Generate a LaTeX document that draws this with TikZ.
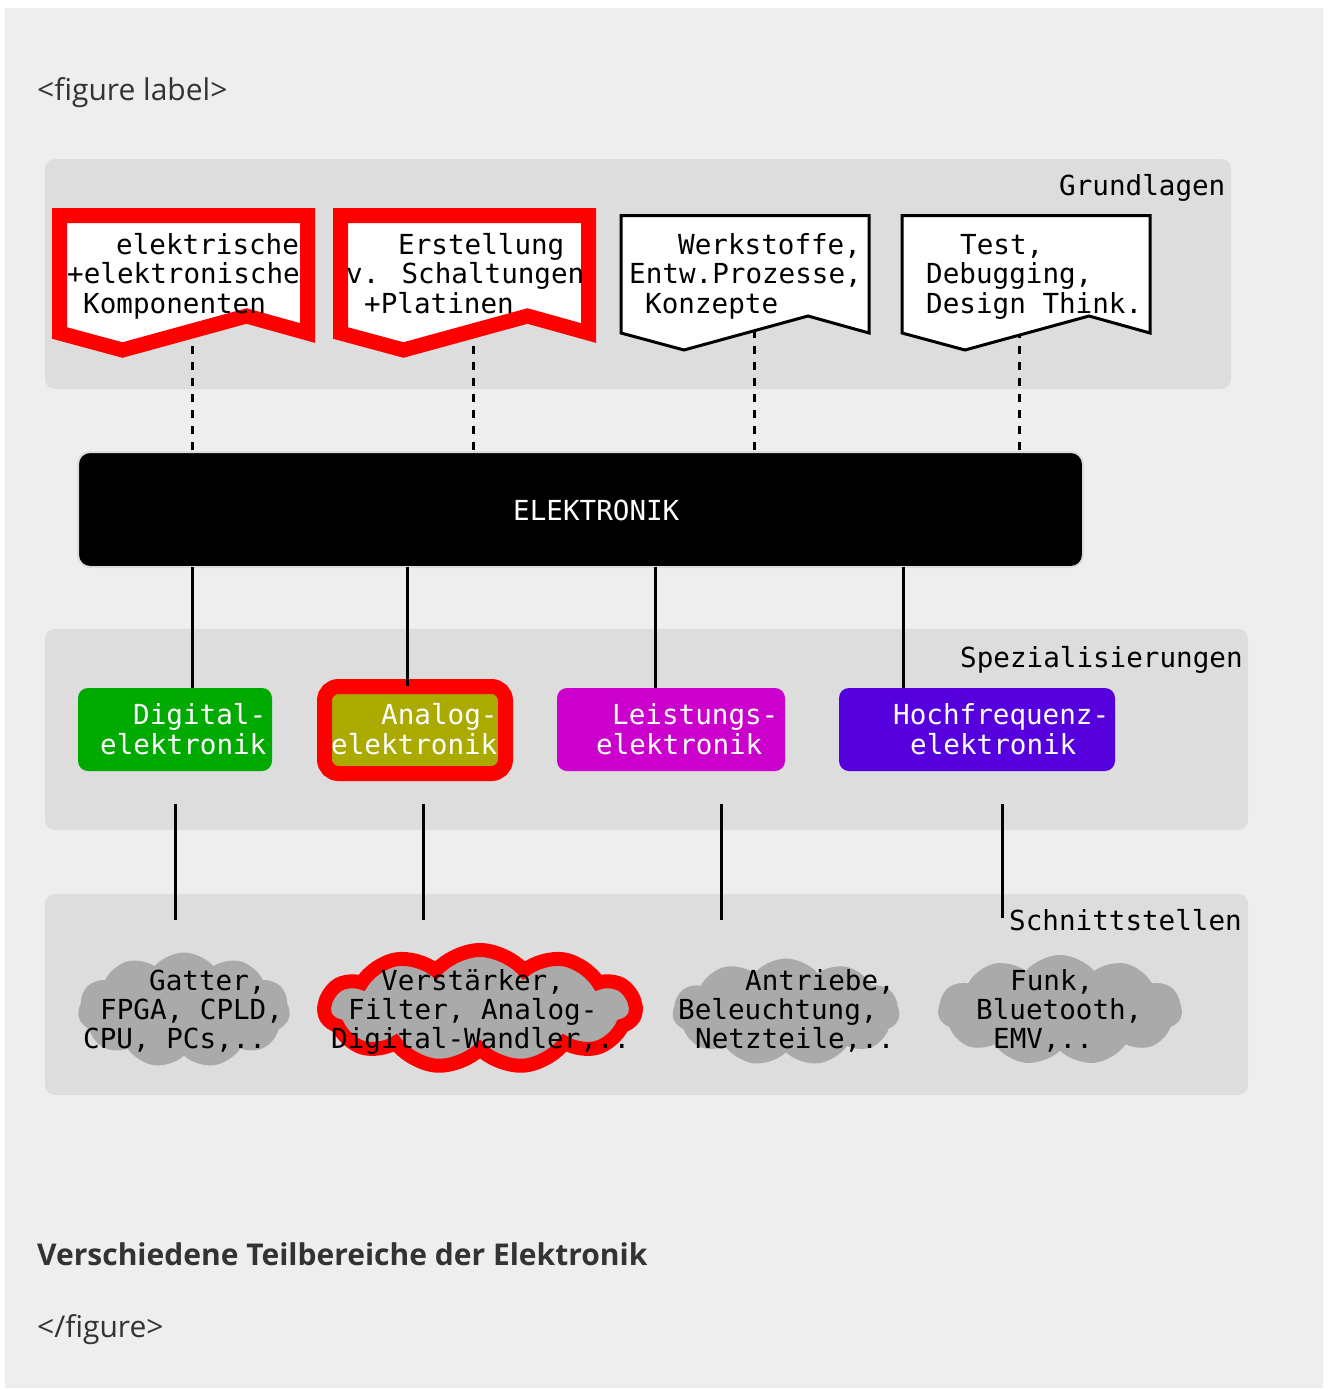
\documentclass[tikz,border=0pt]{standalone}
\usepackage{fontspec}
\setmainfont{Open Sans}
\newfontfamily\monof{DejaVu Sans Mono}
\usetikzlibrary{shapes.symbols}
\definecolor{bgc}{HTML}{EEEEEE}
\definecolor{panelc}{HTML}{DDDDDD}
\definecolor{cloudc}{HTML}{AAAAAA}
\definecolor{digc}{HTML}{00AA00}
\definecolor{anac}{HTML}{AAAA00}
\definecolor{leic}{HTML}{CC00CC}
\definecolor{hfc}{HTML}{5500DD}
\definecolor{capc}{HTML}{333333}
\tikzset{
  panelbox/.style={fill=panelc, rounded corners=10pt},
  mt/.style={font=\monof\fontsize{27.6}{30}\selectfont, inner sep=0pt, anchor=base west},
  wt/.style={mt, text=white},
  banner/.style={draw=black, line width=3pt, fill=white, line join=miter},
  hibanner/.style={draw=red, line width=15pt, fill=white, line join=miter},
  link/.style={line width=3pt},
  dlink/.style={line width=3pt, dash pattern=on 8pt off 8pt},
  specbox/.style={rounded corners=10pt, minimum height=83pt, inner sep=0pt},
  cloudbox/.style={cloud, cloud puffs=11, cloud puff arc=100, cloud ignores aspect, fill=cloudc, inner sep=0pt},
  captxt/.style={text=capc, inner sep=0pt, anchor=base west}
}
\newcommand\bannerpath[2]{%
  \draw[#2] (#1,215.5) -- ++(248,0) -- ++(0,117.5) -- ++(-61,-17) -- ++(-124,34) -- ++(-63,-17) -- cycle;}
\begin{document}
\begin{tikzpicture}[x=1pt,y=-1pt]
\useasboundingbox (0,0) rectangle (1330,1390);
\fill[white] (0,0) rectangle (1330,1390);
\fill[bgc] (5,8) rectangle (1323,1388);

% captions
\node[captxt, font=\fontsize{30}{34}\selectfont] (figlab) at (37,100) {<figure label>};
\node[captxt, font=\bfseries\fontsize{30}{34}\selectfont] (figcap) at (37,1265) {Verschiedene Teilbereiche der Elektronik};
\node[captxt, font=\fontsize{30}{34}\selectfont] (figend) at (37,1337) {</figure>};

% panels
\fill[panelbox] (45,159) rectangle (1231,389);
\fill[panelbox] (45,629) rectangle (1248,830);
\fill[panelbox] (45,894) rectangle (1248,1095);
\node[mt] (lgrund) at (1059,195) {Grundlagen};
\node[mt] (lspez) at (960,667) {Spezialisierungen};
\node[mt] (lschn) at (1009,930) {Schnittstellen};

% central node
\node[fill=black, draw=panelc, line width=2pt, rounded corners=12pt, minimum width=1005pt, minimum height=115pt, inner sep=0pt] (elek) at (580.5,509.5) {};
\node[wt] (elektxt) at (513,520) {ELEKTRONIK};

% dashed connectors
\coordinate (g1) at (192,330);
\coordinate (g2) at (473,330);
\coordinate (g3) at (754,330);
\coordinate (g4) at (1019,330);
\foreach \g in {g1,g2,g3,g4} \draw[dlink] (\g) -- (\g |- elek.north);

% banners
\bannerpath{59.5}{hibanner}
\bannerpath{340.5}{hibanner}
\bannerpath{621}{banner}
\bannerpath{902}{banner}
\node[mt] (t11) at (116,254) {elektrische};
\node[mt] (t12) at (67,283.5) {+elektronische};
\node[mt] (t13) at (83,313) {Komponenten};
\node[mt] (t21) at (398,254) {Erstellung};
\node[mt] (t22) at (346,283.5) {v. Schaltungen};
\node[mt] (t23) at (364,313) {+Platinen};
\node[mt] (t31) at (678,254) {Werkstoffe,};
\node[mt] (t32) at (629,283.5) {Entw.Prozesse,};
\node[mt] (t33) at (645,313) {Konzepte};
\node[mt] (t41) at (960,254) {Test,};
\node[mt] (t42) at (926,283.5) {Debugging,};
\node[mt] (t43) at (926,313) {Design Think.};

% specialisations
\coordinate (e1) at (192,567);
\coordinate (e2) at (407,567);
\coordinate (e3) at (655,567);
\coordinate (e4) at (903,567);
\node[specbox, fill=digc, minimum width=194pt] (dig) at (175,729.5) {};
\node[specbox, fill=anac, draw=red, line width=15pt, rounded corners=14pt, minimum width=181pt, minimum height=87pt] (ana) at (415,730) {};
\node[specbox, fill=leic, minimum width=228pt] (lei) at (671,729.5) {};
\node[specbox, fill=hfc, minimum width=276pt] (hf) at (977,729.5) {};
\draw[link] (e1) -- (e1 |- dig.north);
\draw[link] (e2) -- (e2 |- 0,686);
\draw[link] (e3) -- (e3 |- lei.north);
\draw[link] (e4) -- (e4 |- hf.north);
\node[wt] (s11) at (133,724) {Digital-};
\node[wt] (s12) at (100,754) {elektronik};
\node[wt] (s21) at (381,724) {Analog-};
\node[wt] (s22) at (331,754) {elektronik};
\node[wt] (s31) at (612,724) {Leistungs-};
\node[wt] (s32) at (596,754) {elektronik};
\node[wt] (s41) at (893,724) {Hochfrequenz-};
\node[wt] (s42) at (910,754) {elektronik};

% lines to interfaces
\coordinate (a1) at (175,804); \coordinate (b1) at (175,920);
\coordinate (a2) at (423,804); \coordinate (b2) at (423,920);
\coordinate (a3) at (721,804); \coordinate (b3) at (721,920);
\coordinate (a4) at (1002,804); \coordinate (b4) at (1002,918);
\draw[link] (a1) -- (b1);
\draw[link] (a2) -- (b2);
\draw[link] (a3) -- (b3);
\draw[link] (a4) -- (b4);

% clouds
\node[cloudbox, minimum width=212pt, minimum height=115pt] (c1) at (184,1010) {};
\node[cloudbox, draw=red, line width=14pt, minimum width=311pt, minimum height=118pt] (c2) at (480,1009) {};
\node[cloudbox, minimum width=227pt, minimum height=107pt] (c3) at (786,1012) {};
\node[cloudbox, minimum width=244pt, minimum height=110pt] (c4) at (1060,1010) {};
\node[mt] (k11) at (149,990) {Gatter,};
\node[mt] (k12) at (100,1019) {FPGA, CPLD,};
\node[mt] (k13) at (83,1048) {CPU, PCs,..};
\node[mt] (k21) at (381,990) {Verstärker,};
\node[mt] (k22) at (348,1019) {Filter, Analog-};
\node[mt] (k23) at (331,1048) {Digital-Wandler,..};
\node[mt] (k31) at (745,990) {Antriebe,};
\node[mt] (k32) at (678,1019) {Beleuchtung,};
\node[mt] (k33) at (695,1048) {Netzteile,..};
\node[mt] (k41) at (1010,990) {Funk,};
\node[mt] (k42) at (976,1019) {Bluetooth,};
\node[mt] (k43) at (993,1048) {EMV,..};
\end{tikzpicture}
\end{document}
